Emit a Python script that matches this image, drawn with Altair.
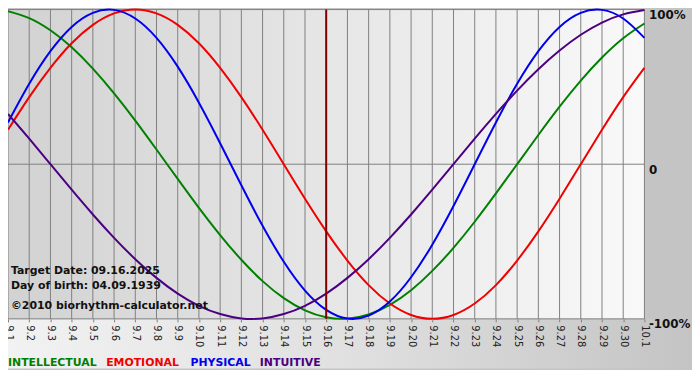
import altair as alt
import pandas as pd

# ---- data ----
dates = ["9.1", "9.2", "9.3", "9.4", "9.5", "9.6", "9.7", "9.8", "9.9", "9.10",
         "9.11", "9.12", "9.13", "9.14", "9.15", "9.16", "9.17", "9.18", "9.19", "9.20",
         "9.21", "9.22", "9.23", "9.24", "9.25", "9.26", "9.27", "9.28", "9.29", "9.30", "10.1"]

physical = [0.270, 0.520, 0.731, 0.888, 0.979, 0.998, 0.942, 0.817, 0.631, 0.398,
            0.136, -0.136, -0.398, -0.631, -0.817, -0.942, -0.998, -0.979, -0.888, -0.731,
            -0.520, -0.270, 0.0, 0.270, 0.520, 0.731, 0.888, 0.979, 0.998, 0.942, 0.817]

emotional = [0.223, 0.434, 0.623, 0.782, 0.901, 0.975, 1.0, 0.975, 0.901, 0.782,
             0.623, 0.434, 0.223, 0.0, -0.223, -0.434, -0.623, -0.782, -0.901, -0.975,
             -1.0, -0.975, -0.901, -0.782, -0.623, -0.434, -0.223, 0.0, 0.223, 0.434, 0.623]

intellectual = [0.990, 0.945, 0.866, 0.756, 0.618, 0.458, 0.282, 0.095, -0.095, -0.282,
                -0.458, -0.618, -0.756, -0.866, -0.945, -0.990, -0.999, -0.972, -0.910, -0.815,
                -0.690, -0.541, -0.372, -0.189, 0.0, 0.189, 0.372, 0.541, 0.690, 0.815, 0.910]

intuitive = [0.325, 0.165, 0.0, -0.165, -0.325, -0.476, -0.614, -0.735, -0.837, -0.916,
             -0.969, -0.997, -0.997, -0.969, -0.916, -0.837, -0.735, -0.614, -0.476, -0.325,
             -0.165, 0.0, 0.165, 0.325, 0.476, 0.614, 0.735, 0.837, 0.916, 0.969, 0.997]

series_names = ["INTELLECTUAL", "EMOTIONAL", "PHYSICAL", "INTUITIVE"]
series_colors = ["#008000", "#f00000", "#0000ee", "#4b0082"]
target_date = "9.16"
info_lines = ["Target Date: 09.16.2025", "Day of birth: 04.09.1939", "©2010 biorhythm-calculator.net"]
y_levels = [-1, 0, 1]

W, H = 642, 312
PAD_R, PAD_B = 48, 50
FONT = "DejaVu Sans"

rows = []
for name, vals in zip(series_names, [intellectual, emotional, physical, intuitive]):
    for d, v in zip(dates, vals):
        rows.append({"date": d, "value": v, "series": name})
df = pd.DataFrame(rows)

xscale = alt.Scale(type="point", padding=0)
yscale = alt.Scale(domain=[-1, 1], nice=False, zero=False)

bg_plot = alt.Chart(pd.DataFrame({"a": [0]})).mark_rect(
    color=alt.LinearGradient(gradient="linear", x1=0, x2=1, y1=0, y2=0,
                             stops=[alt.GradientStop(offset=0, color="#d2d2d2"),
                                    alt.GradientStop(offset=0.5, color="#e6e6e6"),
                                    alt.GradientStop(offset=1, color="#f9f9f9")])
).encode(x=alt.value(0), x2=alt.value(W), y=alt.value(0), y2=alt.value(H))

bg_bottom = alt.Chart(pd.DataFrame({"a": [0]})).mark_rect(
    color=alt.LinearGradient(gradient="linear", x1=0, x2=1, y1=0, y2=0,
                             stops=[alt.GradientStop(offset=0, color="#f2f2f2"),
                                    alt.GradientStop(offset=0.5, color="#e0e0e0"),
                                    alt.GradientStop(offset=1, color="#c4c4c4")])
).encode(x=alt.value(0), x2=alt.value(W + PAD_R), y=alt.value(H), y2=alt.value(H + PAD_B))

vgrid = alt.Chart(pd.DataFrame({"date": dates})).mark_rule(
    color="#808080", strokeWidth=1
).encode(
    x=alt.X("date:O", sort=dates, scale=xscale,
            axis=alt.Axis(title=None, labelAngle=90, labelAlign="left", labelBaseline="middle",
                          labelFont=FONT, labelFontSize=10, labelColor="#222222",
                          labelPadding=3, tickSize=3, tickColor="#808080",
                          grid=False, domain=False, zindex=1)),
)

hgrid = alt.Chart(pd.DataFrame({"value": y_levels})).mark_rule(
    color="#808080", strokeWidth=1
).encode(
    y=alt.Y("value:Q", scale=yscale,
            axis=alt.Axis(title=None, orient="right", values=y_levels,
                          labelExpr="datum.value == 1 ? '100%' : (datum.value == 0 ? '0' : '-100%')",
                          labelFont=FONT, labelFontSize=12, labelFontWeight="bold",
                          labelColor="#111111", labelBaseline="top", labelPadding=4,
                          ticks=False, domain=False, grid=False, zindex=1)),
)

lines = alt.Chart(df).mark_line(strokeWidth=2, interpolate="natural").encode(
    x=alt.X("date:O", sort=dates, scale=xscale),
    y=alt.Y("value:Q", scale=yscale),
    color=alt.Color("series:N", scale=alt.Scale(domain=series_names, range=series_colors), legend=None),
    detail="series:N",
)

target = alt.Chart(pd.DataFrame({"date": [target_date]})).mark_rule(
    color="#800000", strokeWidth=2
).encode(x=alt.X("date:O", sort=dates, scale=xscale))

info_layers = []
for txt, py in zip(info_lines, [264, 279, 299]):
    info_layers.append(
        alt.Chart(pd.DataFrame({"t": [txt]})).mark_text(
            align="left", baseline="middle", font=FONT, fontSize=11, fontWeight="bold", color="#111111"
        ).encode(x=alt.value(3), y=alt.value(py), text="t:N")
    )

legend_layers = []
legend_x = [0, 99, 184, 254]
for nm, col, lx in zip(series_names, series_colors, legend_x):
    legend_layers.append(
        alt.Chart(pd.DataFrame({"t": [nm]})).mark_text(
            align="left", baseline="middle", font=FONT, fontSize=11, fontWeight="bold", color=col
        ).encode(x=alt.value(lx), y=alt.value(H + 45), text="t:N")
    )

chart = alt.layer(bg_bottom, bg_plot, vgrid, hgrid, lines, target, *info_layers, *legend_layers).properties(
    width=W, height=H,
    autosize=alt.AutoSizeParams(type="none"),
    padding={"left": 0, "top": 0, "right": PAD_R, "bottom": PAD_B},
).configure(background="#c4c4c4").configure_view(stroke=None)

chart.save("out.html", embed_options={"renderer": "svg", "actions": False})
